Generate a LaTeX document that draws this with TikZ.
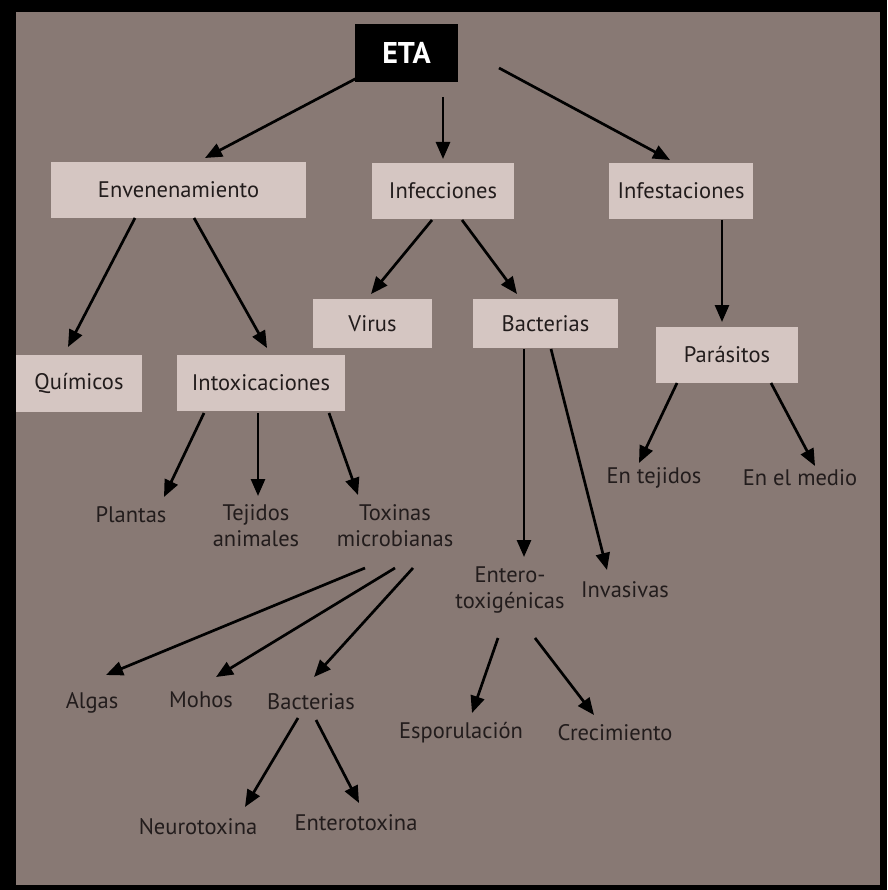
\documentclass[tikz,border=0pt]{standalone}
\usepackage{fontspec}
\setmainfont{PT Sans}
\usetikzlibrary{arrows.meta,calc}
\definecolor{bgc}{RGB}{136,121,116}
\definecolor{boxc}{RGB}{213,198,194}
\definecolor{txt}{RGB}{34,28,28}
\begin{document}
\begin{tikzpicture}[x=1pt,y=-1pt,
  box/.style 2 args={fill=boxc, text=txt, minimum width=#1pt, minimum height=#2pt, inner sep=0pt, font=\fontsize{22.5}{26}\selectfont},
  lbl/.style={text=txt, align=center, inner sep=0pt, font=\fontsize{22.5}{26}\selectfont},
  arr/.style={draw=black, line width=2.7pt, -{Triangle[length=17pt,width=14pt]}}]
\useasboundingbox (0,0) rectangle (887,890);
\fill[black] (0,0) rectangle (887,890);
\fill[bgc] (16,12) rectangle (880,885);
% boxes
\node[fill=black, text=white, minimum width=103pt, minimum height=58pt, inner sep=0pt, font=\fontsize{30}{32}\selectfont\bfseries] (eta) at (406.5,53) {ETA};
\node[box={255}{56}] (env) at (178.5,190) {Envenenamiento};
\node[box={142}{56}] (inf) at (443,191) {Infecciones};
\node[box={144}{56}] (ifs) at (681,191) {Infestaciones};
\node[box={119}{49}] (vir) at (372.5,323.5) {Virus};
\node[box={145}{49}] (bac) at (545.5,323.5) {Bacterias};
\node[box={142}{56}] (par) at (727,355) {Parásitos};
\node[box={126}{57}] (qui) at (79,383.5) {Químicos};
\node[box={168}{56}] (ito) at (261,383) {Intoxicaciones};
% labels
\node[lbl] (pla) at (131,515) {Plantas};
\node[lbl] (tej) at (256,526) {Tejidos\\animales};
\node[lbl] (tox) at (395,526) {Toxinas\\microbianas};
\node[lbl] (ent) at (510,590) {Entero-\\toxigénicas};
\node[lbl] (inv) at (625,590) {Invasivas};
\node[lbl] (etj) at (654,478) {En tejidos};
\node[lbl] (eme) at (800,478) {En el medio};
\node[lbl] (alg) at (92,703) {Algas};
\node[lbl] (moh) at (201,700) {Mohos};
\node[lbl] (bac2) at (311,702) {Bacterias};
\node[lbl] (esp) at (461,733) {Esporulación};
\node[lbl] (cre) at (615,733) {Crecimiento};
\node[lbl] (neu) at (198,827) {Neurotoxina};
\node[lbl] (ent2) at (356,823) {Enterotoxina};
% arrows
\draw[arr] ($(eta.center)+(-49.5,25)$) -- ($(env.center)+(26.5,-32)$);
\draw[arr] ($(eta.center)+(36.5,44)$) -- ($(inf.center)+(0,-32)$);
\draw[arr] ($(eta.center)+(92.5,15)$) -- ($(ifs.center)+(-11,-31)$);
\draw[arr] ($(env.center)+(-43.5,28)$) -- ($(qui.center)+(-11,-36.5)$);
\draw[arr] ($(env.center)+(15.5,28)$) -- ($(ito.center)+(6,-35)$);
\draw[arr] ($(inf.center)+(-11,29)$) -- ($(vir.center)+(-1.5,-29.5)$);
\draw[arr] ($(inf.center)+(19,29)$) -- ($(bac.center)+(-28.5,-29.5)$);
\draw[arr] ($(ifs.center)+(41,29)$) -- ($(par.center)+(-5,-33)$);
\draw[arr] ($(par.center)+(-50,28)$) -- ($(etj.center)+(-15,-15)$);
\draw[arr] ($(par.center)+(44,28)$) -- ($(eme.center)+(15,-12)$);
\draw[arr] ($(bac.center)+(-21.5,25.5)$) -- ($(ent.center)+(14,-33)$);
\draw[arr] ($(bac.center)+(5.5,25.5)$) -- ($(inv.center)+(-18,-20)$);
\draw[arr] ($(ito.center)+(-57,30)$) -- ($(pla.center)+(33,-18)$);
\draw[arr] ($(ito.center)+(-3,30)$) -- ($(tej.center)+(2,-30)$);
\draw[arr] ($(ito.center)+(68,30)$) -- ($(tox.center)+(-37,-31)$);
\draw[arr] ($(tox.center)+(-30,42)$) -- ($(alg.center)+(14,-28)$);
\draw[arr] ($(tox.center)+(0,42)$) -- ($(moh.center)+(15,-23)$);
\draw[arr] ($(tox.center)+(18,42)$) -- ($(bac2.center)+(3,-25)$);
\draw[arr] ($(ent.center)+(-12,48)$) -- ($(esp.center)+(11,-20)$);
\draw[arr] ($(ent.center)+(25,48)$) -- ($(cre.center)+(-21,-18)$);
\draw[arr] ($(bac2.center)+(-13,16)$) -- ($(neu.center)+(47,-20)$);
\draw[arr] ($(bac2.center)+(5,18)$) -- ($(ent2.center)+(3,-20)$);
\end{tikzpicture}
\end{document}
